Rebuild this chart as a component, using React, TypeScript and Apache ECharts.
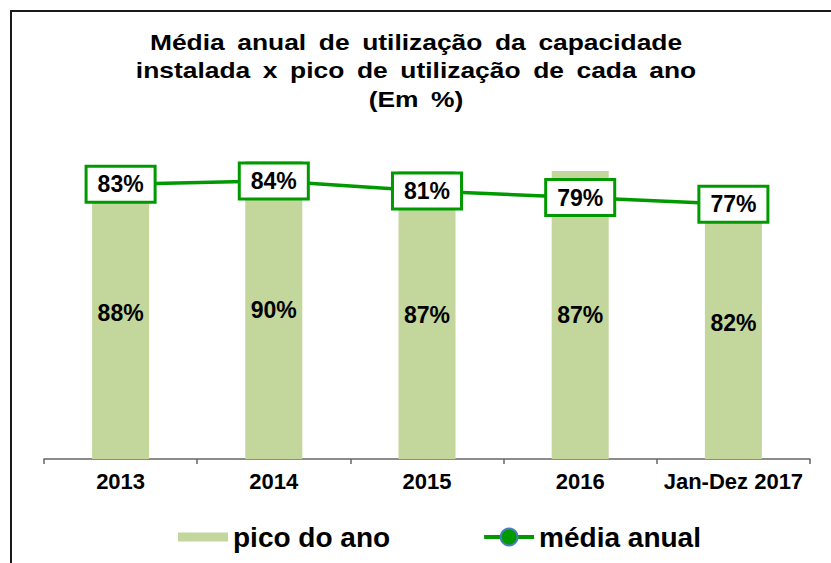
import React, { useEffect, useRef } from "react";
import * as echarts from "echarts";

const categories = ["2013", "2014", "2015", "2016", "Jan-Dez 2017"];
const peakValues = [88, 90, 87, 87, 82];
const averageValues = [83, 84, 81, 79, 77];
const seriesNames = ["pico do ano", "média anual"];
const titleLines = [
  "Média anual de utilização da capacidade",
  "instalada x pico de utilização de cada ano",
  "(Em %)",
];
const titleLineY = [42, 70.5, 99];

const FONT = "'Liberation Sans', Arial, Helvetica, sans-serif";
const GAP = " \u2009";

export default function App() {
  const ref = useRef<HTMLDivElement>(null);

  useEffect(() => {
    document.body.style.margin = "0";
    if (!ref.current) return;
    const chart = echarts.init(ref.current, null, { renderer: "svg" });
    const titleGraphics = titleLines.map((line, i) => ({
      type: "text",
      x: 416,
      y: titleLineY[i],
      scaleX: 1.2,
      style: {
        text: line.split(" ").join(GAP),
        textAlign: "center",
        textVerticalAlign: "middle",
        fontFamily: FONT,
        fontSize: 22,
        fontWeight: "bold",
        fill: "#000",
      },
    }));
    chart.setOption({
      animation: false,
      backgroundColor: "#ffffff",
      grid: { left: 44, right: 21, top: 128, bottom: 104, containLabel: false },
      legend: {
        data: [
          { name: seriesNames[0], icon: "path://M0,0h50v9H0z" },
          { name: seriesNames[1], lineStyle: { width: 4 } },
        ],
        left: 173,
        top: 518,
        itemWidth: 50,
        itemHeight: 21,
        itemGap: 92,
        textStyle: {
          fontFamily: FONT,
          fontSize: 28,
          fontWeight: "bold",
          color: "#000",
        },
      },
      xAxis: {
        type: "category",
        data: categories,
        boundaryGap: true,
        axisLine: { show: true, lineStyle: { color: "#666", width: 1.5 } },
        axisTick: { show: true, length: 5, lineStyle: { color: "#666", width: 1.5 } },
        axisLabel: {
          interval: 0,
          margin: 11,
          fontFamily: FONT,
          fontSize: 22,
          fontWeight: "bold",
          color: "#000",
        },
      },
      yAxis: {
        type: "value",
        min: 0,
        max: 100,
        show: false,
        splitLine: { show: false },
      },
      series: [
        {
          name: seriesNames[0],
          type: "bar",
          data: peakValues,
          barWidth: 57,
          itemStyle: { color: "#c3d69b" },
          label: {
            show: true,
            position: "inside",
            formatter: "{c}%",
            fontFamily: FONT,
            fontSize: 23,
            fontWeight: "bold",
            color: "#000",
          },
        },
        {
          name: seriesNames[1],
          type: "line",
          data: averageValues,
          symbol: "circle",
          symbolSize: 15,
          lineStyle: { color: "#009a00", width: 3.5 },
          itemStyle: { color: "#009a00", borderColor: "#4a7ebb", borderWidth: 1.5 },
          label: {
            show: true,
            position: "inside",
            formatter: "{c}%",
            fontFamily: FONT,
            fontSize: 23,
            fontWeight: "bold",
            color: "#000",
            backgroundColor: "#fff",
            borderColor: "#009a00",
            borderWidth: 3,
            padding: [5, 10, 5, 10],
          },
          z: 3,
        },
      ],
      graphic: [
        ...titleGraphics,
        {
          type: "line",
          shape: { x1: 10, y1: 11, x2: 831, y2: 11 },
          style: { stroke: "#1a1a1a", lineWidth: 2 },
        },
        {
          type: "line",
          shape: { x1: 11, y1: 10, x2: 11, y2: 563 },
          style: { stroke: "#1a1a1a", lineWidth: 2 },
        },
      ],
    });
    return () => chart.dispose();
  }, []);

  return <div ref={ref} style={{ width: 831, height: 563 }} />;
}
